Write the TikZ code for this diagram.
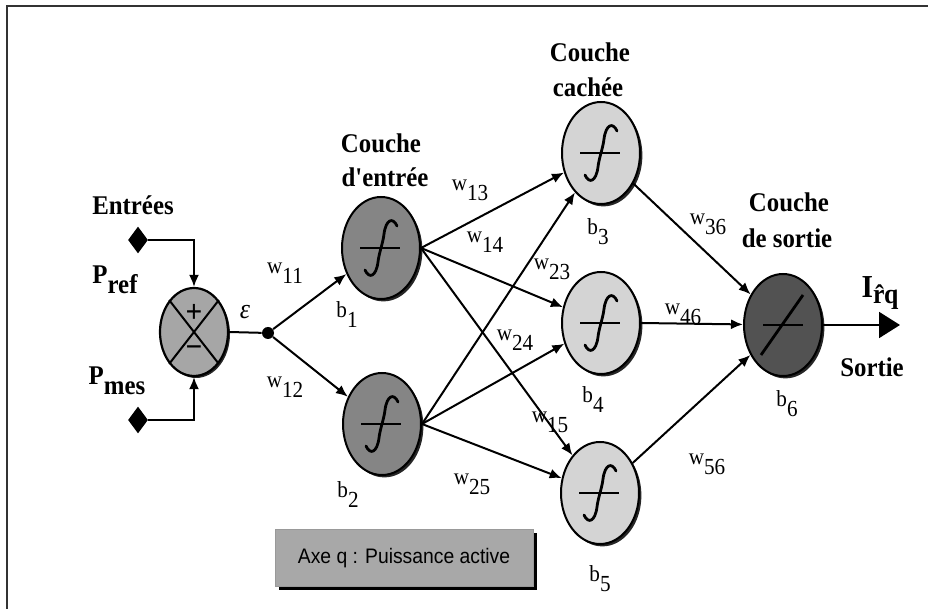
\documentclass[tikz,border=0pt]{standalone}
\usepackage{fontspec}
\setmainfont{Liberation Serif}[FakeStretch=0.92,Ligatures=TeXOff]
\newfontfamily\axefont{Liberation Sans}[FakeStretch=0.92]
\usetikzlibrary{arrows.meta,shapes.geometric,shadows}

\tikzset{
  wire/.style={line width=1pt},
  arr/.style={wire,-{Latex[length=6pt,width=5pt]}},
  bigarr/.style={wire,-{Triangle[length=10.5pt,width=13pt]}},
  neuron/.style={ellipse,draw,line width=1pt,inner sep=0pt,
    minimum width=39pt,minimum height=51pt,
    general shadow={fill=black!85,shadow xshift=1.2pt,shadow yshift=-1.2pt}},
  inneur/.style={neuron,fill=black!48},
  hidneur/.style={neuron,fill=black!17},
  outneur/.style={neuron,fill=black!68},
  sumnode/.style={ellipse,draw,line width=1.1pt,inner sep=0pt,fill=black!35,
    minimum width=34pt,minimum height=44pt,
    general shadow={fill=black!85,shadow xshift=1pt,shadow yshift=-1pt}},
  dotnode/.style={circle,fill=black,inner sep=0pt,minimum size=6pt},
  diam/.style={diamond,fill=black,inner sep=0pt,minimum width=10pt,minimum height=13.5pt},
  title/.style={font=\fontsize{13.5}{15}\selectfont\bfseries,inner sep=0pt},
  wlab/.style={font=\fontsize{11.5}{13}\selectfont,inner sep=0pt},
  sign/.style={font=\fontsize{16}{16}\selectfont\bfseries,inner sep=0pt},
  axebox/.style={fill=black!34,draw=black!40,line width=0.4pt,
    minimum width=129pt,minimum height=28.5pt,
    font=\axefont\fontsize{10.5}{12}\selectfont,
    general shadow={fill=black,shadow xshift=2pt,shadow yshift=-2pt}},
  sigm/.pic={
    \draw[line width=1.4pt] (-21,0) -- (19,0);
    \draw[line width=1.4pt,line cap=round] (-16,22) .. controls (-12,31) and (-5,29) .. (-3,14)
      .. controls (-2,5) and (2,-5) .. (3,-14)
      .. controls (5,-29) and (12,-31) .. (16,-22);
  },
  lin/.pic={
    \draw[line width=1.4pt] (-20,0) -- (20,0);
    \draw[line width=1.4pt] (-22,30) -- (20,-30);
  }
}

% weight label: w with a lowered index
\newcommand{\wt}[1]{w\raisebox{-5pt}{#1}}

\begin{document}
\begin{tikzpicture}[x=0.5pt,y=-0.5pt]
\useasboundingbox (0,0) rectangle (928,609);

% frame
\draw[line width=1pt,black!80] (7,609) -- (7,6) -- (928,6);

% summing junction and inputs
\node[sumnode] (s) at (194,332) {};
\draw[wire] (s.north west) -- (s.south east);
\draw[wire] (s.north east) -- (s.south west);
\node[sign] (plus) at (194,313) {+};
\node[sign] (minus) at (194,352) {−};

\node[diam] (pr) at (138,240) {};
\node[diam] (pm) at (138,420) {};
\draw[arr] (pr.east) -| (s.north);
\draw[arr] (pm.east) -| (s.south);

\node[dotnode] (d) at (268,333) {};
\draw[wire] (s.east) -- (d);

% neurons
\node[inneur] (n1) at (381,248) {};
\node[inneur] (n2) at (382,424) {};
\node[hidneur] (n3) at (601,153) {};
\node[hidneur] (n4) at (601,323) {};
\node[hidneur] (n5) at (600,493) {};
\node[outneur] (n6) at (783,325) {};

\foreach \n in {n1,n2,n3,n4,n5} \pic at (\n) {sigm};
\pic at (n6) {lin};

% connections
\draw[arr] (d) -- (n1);
\draw[arr] (d) -- (n2);
\foreach \a in {n1,n2}
  \foreach \b in {n3,n4,n5}
    \draw[arr] (\a.east) -- (\b);
\draw[arr] (n3) -- (n6);
\draw[arr] (n4.east) -- (n6);
\draw[arr] (n5) -- (n6);
\coordinate (out) at (900,325);
\draw[bigarr] (n6.east) -- (out);

% texts
\node[title] (tin) at (133,205) {Entrées};
\node[title] (tpr) at (115,280) {P\raisebox{-5pt}{ref}};
\node[title] (tpm) at (117,381) {P\raisebox{-5pt}{mes}};
\node[font=\fontsize{14}{14}\selectfont\itshape,inner sep=0pt] (eps) at (245,312) {ε};

\node[title] (c1a) at (381,143) {Couche};
\node[title] (c1b) at (385,177) {d'entrée};
\node[title] (c2a) at (590,52) {Couche};
\node[title] (c2b) at (588,87) {cachée};
\node[title] (c3a) at (789,202) {Couche};
\node[title] (c3b) at (787,238) {de sortie};
\node[title] (tso) at (872,367) {Sortie};
\node[font=\fontsize{16}{17}\selectfont\bfseries,inner sep=0pt] (iout) at (880,293)
  {I\raisebox{-3pt}{\fontsize{14}{14}\selectfont\^{r}q}};

\node[wlab] (w11) at (285,273) {\wt{11}};
\node[wlab] (w12) at (285,387) {\wt{12}};
\node[wlab] (w13) at (470,190) {\wt{13}};
\node[wlab] (w14) at (485,242) {\wt{14}};
\node[wlab] (w23) at (552,269) {\wt{23}};
\node[wlab] (w24) at (515,340) {\wt{24}};
\node[wlab] (w15) at (550,422) {\wt{15}};
\node[wlab] (w25) at (472,484) {\wt{25}};
\node[wlab] (w36) at (708,224) {\wt{36}};
\node[wlab] (w46) at (683,314) {\wt{46}};
\node[wlab] (w56) at (707,464) {\wt{56}};

\node[wlab] (b1) at (347,315) {b\raisebox{-5pt}{1}};
\node[wlab] (b2) at (348,495) {b\raisebox{-5pt}{2}};
\node[wlab] (b3) at (598,232) {b\raisebox{-5pt}{3}};
\node[wlab] (b4) at (593,400) {b\raisebox{-5pt}{4}};
\node[wlab] (b5) at (600,579) {b\raisebox{-5pt}{5}};
\node[wlab] (b6) at (787,404) {b\raisebox{-5pt}{6}};

\node[axebox] (axe) at (404,558) {Axe q : Puissance active};
\end{tikzpicture}
\end{document}
